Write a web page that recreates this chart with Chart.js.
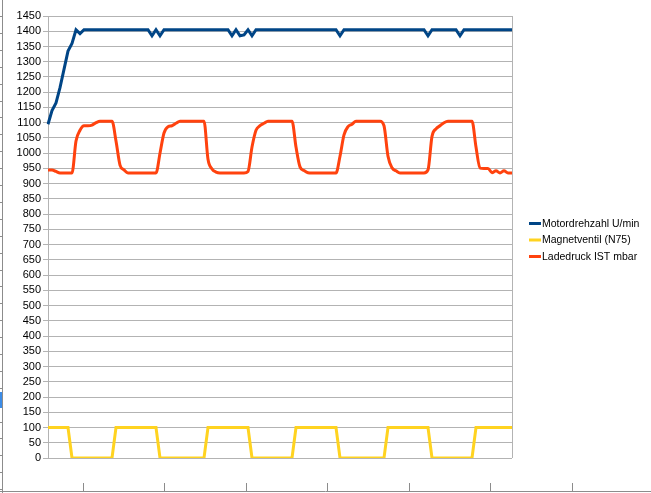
<!DOCTYPE html>
<html>
<head>
<meta charset="utf-8">
<script src="https://cdn.jsdelivr.net/npm/chart.js@4"></script>
<style>
  html, body { margin: 0; padding: 0; background: #fff; }
  #chart { display: block; }
</style>
</head>
<body>
<canvas id="chart" width="651" height="493"></canvas>
<script>
// series names as in the sheet
const seriesNames = ['Motordrehzahl U/min', 'Magnetventil (N75)', 'Ladedruck IST mbar'];
const seriesColors = ['#004586', '#ffd320', '#ff420e'];

// y axis: 0 .. 1450 in steps of 50
const yMin = 0, yMax = 1450, yStep = 50;

// Motordrehzahl U/min
const rpm = [
    1095, 1140, 1165, 1215, 1275, 1335, 1360, 1405, 1392, 1405,
    1405, 1405, 1405, 1405, 1405, 1405, 1405, 1405, 1405, 1405,
    1405, 1405, 1405, 1405, 1405, 1405, 1385, 1405, 1385, 1405,
    1405, 1405, 1405, 1405, 1405, 1405, 1405, 1405, 1405, 1405,
    1405, 1405, 1405, 1405, 1405, 1405, 1385, 1405, 1385, 1388,
    1405, 1385, 1405, 1405, 1405, 1405, 1405, 1405, 1405, 1405,
    1405, 1405, 1405, 1405, 1405, 1405, 1405, 1405, 1405, 1405,
    1405, 1405, 1405, 1385, 1405, 1405, 1405, 1405, 1405, 1405,
    1405, 1405, 1405, 1405, 1405, 1405, 1405, 1405, 1405, 1405,
    1405, 1405, 1405, 1405, 1405, 1385, 1405, 1405, 1405, 1405,
    1405, 1405, 1405, 1385, 1405, 1405, 1405, 1405, 1405, 1405,
    1405, 1405, 1405, 1405, 1405, 1405, 1405
];

// Magnetventil (N75)
const valve = [
    100, 100, 100, 100, 100, 100, 0, 0, 0, 0,
    0, 0, 0, 0, 0, 0, 0, 100, 100, 100,
    100, 100, 100, 100, 100, 100, 100, 100, 0, 0,
    0, 0, 0, 0, 0, 0, 0, 0, 0, 0,
    100, 100, 100, 100, 100, 100, 100, 100, 100, 100,
    100, 0, 0, 0, 0, 0, 0, 0, 0, 0,
    0, 0, 100, 100, 100, 100, 100, 100, 100, 100,
    100, 100, 100, 0, 0, 0, 0, 0, 0, 0,
    0, 0, 0, 0, 0, 100, 100, 100, 100, 100,
    100, 100, 100, 100, 100, 100, 0, 0, 0, 0,
    0, 0, 0, 0, 0, 0, 0, 100, 100, 100,
    100, 100, 100, 100, 100, 100, 100
];

// Ladedruck IST mbar
const boost = [
    945, 945, 940, 935, 935, 935, 935, 1040, 1075, 1090,
    1090, 1092, 1100, 1105, 1105, 1105, 1105, 1040, 961, 945,
    935, 935, 935, 935, 935, 935, 935, 935, 1000, 1066,
    1087, 1090, 1098, 1105, 1105, 1105, 1105, 1105, 1105, 1105,
    980, 948, 938, 935, 935, 935, 935, 935, 935, 935,
    940, 1020, 1075, 1090, 1098, 1105, 1105, 1105, 1105, 1105,
    1105, 1105, 1020, 955, 943, 936, 935, 935, 935, 935,
    935, 935, 935, 990, 1060, 1087, 1095, 1105, 1105, 1105,
    1105, 1105, 1105, 1105, 1090, 990, 952, 942, 935, 935,
    935, 935, 935, 935, 935, 945, 1055, 1080, 1090, 1100,
    1105, 1105, 1105, 1105, 1105, 1105, 1105, 1020, 951, 950,
    950, 936, 942, 935, 942, 935, 935
];

// sample numbers, not shown on the axis
const samples = rpm.map((_, i) => i + 1);

const gridColor = '#b3b3b3';
const fontFamily = "'Liberation Sans', Arial, sans-serif";

// sheet leftovers around the chart + legend box on the right
const sheetPlugin = {
    id: 'sheet',
    beforeDraw: (chart) => {
        const ctx = chart.ctx;
        ctx.save();
        ctx.strokeStyle = '#8c8c8c';
        ctx.lineWidth = 1;
        ctx.beginPath();
        ctx.moveTo(2.5, 0);
        ctx.lineTo(2.5, 493);
        for (let y = 16; y < 490; y += 16.9) {
            ctx.moveTo(0, Math.round(y) + 0.5);
            ctx.lineTo(2, Math.round(y) + 0.5);
        }
        ctx.moveTo(0, 491.5);
        ctx.lineTo(651, 491.5);
        [83, 164, 246, 327, 409, 490, 572].forEach((x) => {
            ctx.moveTo(x + 0.5, 483);
            ctx.lineTo(x + 0.5, 491);
        });
        ctx.stroke();
        ctx.fillStyle = '#3c8ce7';
        ctx.fillRect(0, 392, 2, 16);
        ctx.restore();
    },
    afterDraw: (chart) => {
        const ctx = chart.ctx,
            area = chart.chartArea;
        ctx.save();
        // right wall of the plot
        ctx.strokeStyle = gridColor;
        ctx.lineWidth = 1;
        ctx.beginPath();
        ctx.moveTo(Math.round(area.right) + 0.5, area.top);
        ctx.lineTo(Math.round(area.right) + 0.5, area.bottom);
        ctx.stroke();

        // legend
        const rowY = [223.5, 240, 256.5];
        ctx.font = '10.5px ' + fontFamily;
        ctx.textBaseline = 'middle';
        chart.data.datasets.forEach((ds, i) => {
            ctx.fillStyle = ds.borderColor;
            ctx.fillRect(529, rowY[i] - 1.5, 12, 3);
            ctx.fillStyle = '#000';
            ctx.fillText(ds.label, 542, rowY[i] + 0.5);
        });
        ctx.restore();
    }
};

const lineSet = (label, data, color, smooth) => ({
    label: label,
    data: data,
    borderColor: color,
    backgroundColor: color,
    borderWidth: 3,
    pointRadius: 0,
    tension: 0,
    cubicInterpolationMode: smooth ? 'monotone' : 'default',
    fill: false
});

new Chart(document.getElementById('chart'), {
    type: 'line',
    data: {
        labels: samples,
        datasets: [
            lineSet(seriesNames[0], rpm, seriesColors[0], false),
            lineSet(seriesNames[1], valve, seriesColors[1], false),
            lineSet(seriesNames[2], boost, seriesColors[2], true)
        ]
    },
    options: {
        responsive: false,
        animation: false,
        layout: {
            padding: { left: 0, top: 16, right: 139, bottom: 35 }
        },
        plugins: {
            legend: { display: false },
            tooltip: { enabled: false }
        },
        scales: {
            x: {
                display: false
            },
            y: {
                min: yMin,
                max: yMax,
                afterFit: (scale) => { scale.width = 48; },
                ticks: {
                    stepSize: yStep,
                    autoSkip: false,
                    padding: 2,
                    color: '#000',
                    font: { family: fontFamily, size: 11 },
                    callback: (v) => String(v) // no thousands separator
                },
                grid: {
                    color: gridColor,
                    tickLength: 5
                },
                border: { color: gridColor }
            }
        }
    },
    plugins: [sheetPlugin]
});
</script>
</body>
</html>
